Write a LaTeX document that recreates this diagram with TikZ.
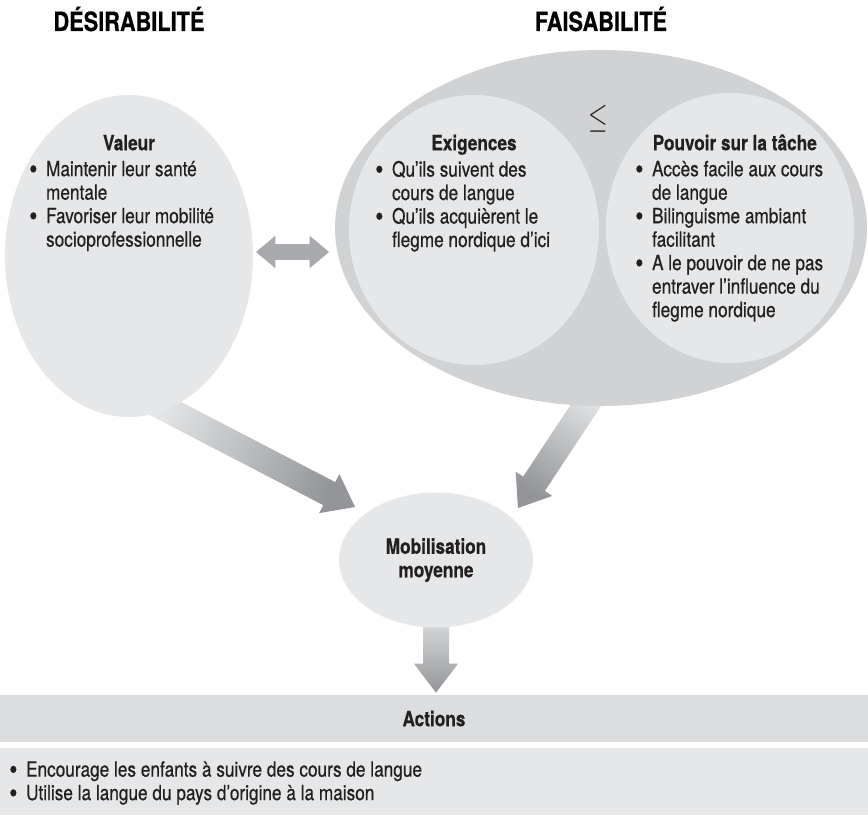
\documentclass[tikz,border=0pt]{standalone}
\usepackage{fontspec}
\setmainfont{TeX Gyre Heros}[FakeStretch=0.82, FakeBold=0.5]
\usepackage{tikz}
\usetikzlibrary{positioning,calc,shapes.geometric,shapes.arrows,backgrounds}

\definecolor{grisclair}{HTML}{E6E7E8}
\definecolor{grismoyen}{HTML}{D1D2D4}
\definecolor{grisbande}{HTML}{DCDDDE}
\definecolor{grisfleche}{HTML}{A7A9AC}
\definecolor{grisfonce}{HTML}{939598}
\definecolor{encre}{HTML}{231F20}

\newcommand\corps{\fontsize{14.94}{16.7}\selectfont}
\newcommand\puce{\makebox[0.8em][l]{\raisebox{-0.12em}{\scalebox{1.35}{\textbullet}}}}
\newcommand\retrait{\makebox[0.8em]{}}
\newcommand\demitige{0.325cm}
\newcommand\demitete{0.55cm}
\newcommand\tetelong{0.725cm}
\newcommand\grossefleche[3]{%
  \coordinate (gf-base) at ($(#2)!\tetelong!(#1)$);
  \shade[grosse fleche, shading angle=#3]
    ($(#1)!\demitige!90:(#2)$) -- ($(gf-base)!\demitige!90:(#2)$)
    -- ($(gf-base)!\demitete!90:(#2)$) -- (#2)
    -- ($(gf-base)!\demitete!-90:(#2)$) -- ($(gf-base)!\demitige!-90:(#2)$)
    -- ($(#1)!\demitige!-90:(#2)$) -- cycle;}

\begin{document}
\begin{tikzpicture}[font=\corps, text=encre]
		\tikzset{ovale/.style = {ellipse, fill=grisclair, inner sep=0pt},
			entete/.style = {font=\fontsize{18.85}{20}\selectfont\bfseries, text=black, inner sep=0pt, anchor=base},
			titre/.style = {font=\corps\bfseries, inner sep=0pt, anchor=base},
			liste/.style = {align=left, inner sep=0pt, anchor=north west},
			bande/.style = {rectangle, minimum width=21.7cm, inner sep=0pt},
			lien/.style = {double arrow, fill=grisfleche, inner sep=0.1875cm, minimum height=1.825cm,
				double arrow head extend=0.2125cm, double arrow tip angle=80},
			grosse fleche/.style = {top color=grisclair, bottom color=grisfonce}}
		\useasboundingbox (0,0) rectangle (21.7,20.525);
		\node[entete] (desir) at (3.225,19.75) {DÉSIRABILITÉ};
		\node[entete] (faisa) at (15.025,19.75) {FAISABILITÉ};
		\node[ovale, fill=grismoyen, minimum width=13.3cm, minimum height=8.9cm] (faisab) at (15.025,14.825) {};
		\node[ovale, minimum width=6.2cm, minimum height=8.05cm] (valeur) at (3.225,14.125) {};
		\node[ovale, minimum width=6.25cm, minimum height=6.75cm] (exig) at (11.85,14.775) {};
		\node[ovale, minimum width=6.2cm, minimum height=6.75cm] (pouvoir) at (18.25,14.825) {};
		\node (inf) at (14.95,17.55) {\fontsize{28}{28}\selectfont\scalebox{0.72}[1]{$\leq$}};
		\node[titre] (valeur-t) at ([yshift=-1.39cm]valeur.north) {Valeur};
		\node[titre] (exig-t) at ([yshift=-1.39cm]exig.north) {Exigences};
		\node[titre] (pouvoir-t) at ([xshift=0.12cm,yshift=-1.44cm]pouvoir.north) {Pouvoir sur la tâche};
		\node[liste] (valeur-l) at (0.725,16.51) {\puce Maintenir leur santé\\\retrait mentale\\
			\puce Favoriser leur mobilité\\\retrait socioprofessionnelle};
		\node[liste] (exig-l) at (9.375,16.51) {\puce Qu’ils suivent des\\\retrait cours de langue\\
			\puce Qu’ils acquièrent le\\\retrait flegme nordique d’ici};
		\node[liste] (pouvoir-l) at (15.875,16.51) {\puce Accès facile aux cours\\\retrait de langue\\
			\puce Bilinguisme ambiant\\\retrait facilitant\\
			\puce A le pouvoir de ne pas\\\retrait entraver l’influence du\\\retrait flegme nordique};
		\node[lien] (lien) at (7.3125,14.225) {};
		\node[ovale, minimum width=4.85cm, minimum height=3.375cm, font=\corps\bfseries, align=center] (mobil) at (10.9,6.525) {Mobilisation\\moyenne};
		\node[bande, fill=grisbande, minimum height=1.175cm, font=\corps\bfseries] (actions) at (10.85,2.5625) {Actions};
		\node[bande, fill=grisclair, minimum height=1.675cm] (actions-c) at (10.85,0.9875) {};
		\node[liste, anchor=west] (actions-l) at (0.225,0.95) {\puce Encourage les enfants à suivre des cours de langue\\
			\puce Utilise la langue du pays d’origine à la maison};
		\begin{pgfonlayer}{background}
			\coordinate (v-tip) at ($(mobil.center)+(-2.025,1.325)$);
			\coordinate (v-dep) at ($(v-tip)!1.15!(valeur.-76)$);
			\coordinate (f-tip) at ($(mobil.center)+(2.05,1.3)$);
			\coordinate (f-dep) at ($(f-tip)!1.2!(faisab.-95)$);
			\coordinate (d-dep) at ($(mobil.center)!0.7!(mobil.south)$);
			\coordinate (d-tip) at ($(mobil.south |- actions.north)+(0,0.05)$);
			\grossefleche{v-dep}{v-tip}{63}
			\grossefleche{f-dep}{f-tip}{-33}
			\grossefleche{d-dep}{d-tip}{0}
		\end{pgfonlayer}
	\end{tikzpicture}
\end{document}
